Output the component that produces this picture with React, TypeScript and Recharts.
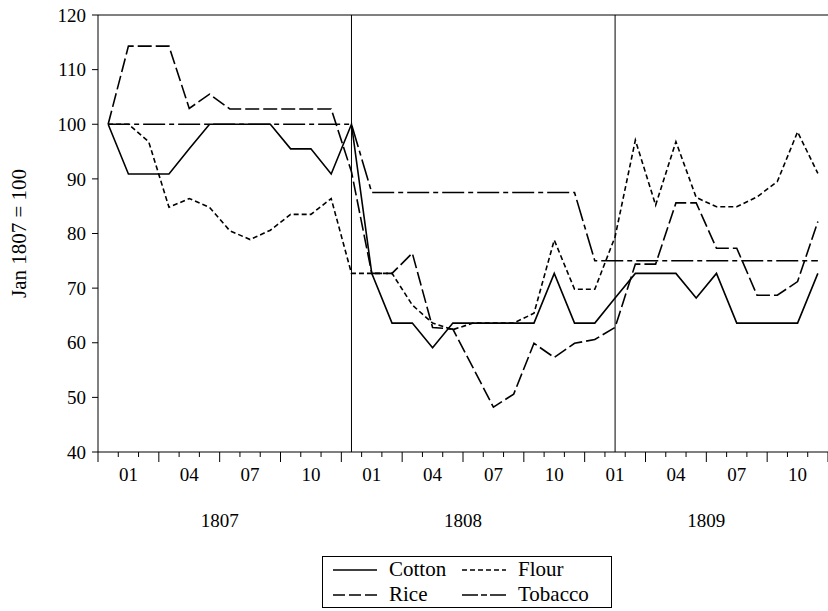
import { LineChart, Line, XAxis, YAxis, ReferenceLine, Legend } from 'recharts';

const FONT = 'Liberation Serif, Tinos, DejaVu Serif, serif';

// monthly index values, Jan 1807 = 100 (36 observations)
const cotton = [
  100, 90.9, 90.9, 90.9, 95.5, 100, 100, 100, 100, 95.5, 95.5, 90.9,
  100, 72.7, 63.6, 63.6, 59.1, 63.6, 63.6, 63.6, 63.6, 63.6, 72.7, 63.6,
  63.6, 68.2, 72.7, 72.7, 72.7, 68.2, 72.7, 63.6, 63.6, 63.6, 63.6, 72.7,
];
const flour = [
  100, 100, 96.8, 84.8, 86.4, 84.8, 80.5, 78.9, 80.6, 83.5, 83.5, 86.4,
  72.7, 72.7, 72.7, 66.9, 63.6, 62.4, 63.6, 63.6, 63.6, 65.4, 78.8, 69.8,
  69.8, 79.4, 97.1, 85.2, 96.8, 86.6, 84.9, 84.9, 86.7, 89.5, 98.6, 91.0,
];
const rice = [
  100, 114.3, 114.3, 114.3, 102.9, 105.5, 102.8, 102.8, 102.8, 102.8, 102.8, 102.8,
  91.3, 72.7, 72.7, 76.4, 62.8, 62.5, 55.4, 48.2, 50.6, 59.9, 57.3, 59.9,
  60.6, 62.8, 74.4, 74.4, 85.6, 85.6, 77.3, 77.3, 68.7, 68.7, 71.2, 82.2,
];
const tobacco = [
  100, 100, 100, 100, 100, 100, 100, 100, 100, 100, 100, 100,
  100, 87.5, 87.5, 87.5, 87.5, 87.5, 87.5, 87.5, 87.5, 87.5, 87.5, 87.5,
  75, 75, 75, 75, 75, 75, 75, 75, 75, 75, 75, 75,
];

const years = ['1807', '1808', '1809'];
const monthTickIdx = [1, 4, 7, 10, 13, 16, 19, 22, 25, 28, 31, 34];
const monthTickLabels = ['01', '04', '07', '10', '01', '04', '07', '10', '01', '04', '07', '10'];
const yTicks = [40, 50, 60, 70, 80, 90, 100, 110, 120];
const yearLines = [12, 25];

const data = cotton.map((c, i) => ({
  idx: i,
  Cotton: c,
  Flour: flour[i],
  Rice: rice[i],
  Tobacco: tobacco[i],
}));

// band edges between months, plus label positions
const boundaries = Array.from({ length: cotton.length + 1 }, (_, j) => j - 0.5);
const yearCenters = years.map((_, i) => i * 12 + 5.5);
const xTicks = [...boundaries, ...monthTickIdx].sort((a, b) => a - b);

const textStyle = { fontFamily: FONT, fontSize: 19, fill: '#000' };

function XTick(props: any) {
  const { x, y, payload } = props;
  const v = payload.value as number;
  if (Number.isInteger(v)) {
    const label = monthTickLabels[monthTickIdx.indexOf(v)];
    return (
      <text x={x} y={y + 29} textAnchor="middle" style={textStyle}>
        {label}
      </text>
    );
  }
  const j = v + 0.5;
  const major = j % 3 === 0;
  const yi = yearCenters.indexOf(v);
  return (
    <g>
      <line x1={x} x2={x} y1={y} y2={y + (major ? 10 : 5)} stroke="#000" strokeWidth={1} />
      {yi >= 0 && (
        <text x={x} y={y + 75} textAnchor="middle" style={textStyle}>
          {years[yi]}
        </text>
      )}
    </g>
  );
}

function YTitle(props: any) {
  const vb = props.viewBox;
  const cx = vb.x + 19;
  const cy = vb.y + vb.height / 2;
  return (
    <text
      x={cx}
      y={cy}
      transform={`rotate(-90 ${cx} ${cy})`}
      textAnchor="middle"
      dominantBaseline="central"
      style={{ ...textStyle, fontSize: 21 }}
    >
      Jan 1807 = 100
    </text>
  );
}

function LegendBox(props: any) {
  const items = props.payload || [];
  return (
    <div
      style={{
        border: '1px solid #000',
        boxSizing: 'border-box',
        width: '100%',
        height: '100%',
        display: 'grid',
        gridTemplateColumns: '129px auto',
        alignContent: 'center',
        paddingLeft: 10,
        fontFamily: FONT,
        fontSize: 21,
        lineHeight: '25px',
        color: '#000',
      }}
    >
      {items.map((it: any) => (
        <div key={it.value} style={{ display: 'flex', alignItems: 'center' }}>
          <svg width={44} height={10} style={{ marginRight: 12 }}>
            <line
              x1={0}
              x2={44}
              y1={5}
              y2={5}
              stroke="#000"
              strokeWidth={1.6}
              strokeDasharray={it.payload?.legendDash}
            />
          </svg>
          <span>{it.value}</span>
        </div>
      ))}
    </div>
  );
}

export default function App() {
  return (
    <div style={{ position: 'absolute', left: 0, top: 0 }}>
      <LineChart width={828} height={611} data={data} margin={{ top: 15, right: 0, bottom: 0, left: 0 }}>
        <XAxis
          type="number"
          dataKey="idx"
          domain={[-0.5, 35.5]}
          ticks={xTicks}
          interval={0}
          tick={XTick}
          tickLine={false}
          tickSize={0}
          tickMargin={0}
          height={159}
          axisLine={{ stroke: '#000', strokeWidth: 1 }}
        />
        <YAxis
          domain={[40, 120]}
          ticks={yTicks}
          interval={0}
          width={98}
          tickSize={6}
          tickMargin={6}
          tick={{ fontSize: 19, fill: '#000', style: { fontFamily: FONT } }}
          tickLine={{ stroke: '#000' }}
          axisLine={{ stroke: '#000', strokeWidth: 1 }}
          label={{ content: YTitle }}
        />
        <ReferenceLine y={120} stroke="#000" strokeWidth={1} />
        {yearLines.map((k) => (
          <ReferenceLine key={k} x={k} stroke="#000" strokeWidth={1} />
        ))}
        <Line type="linear" dataKey="Cotton" stroke="#000" strokeWidth={1.6} dot={false} isAnimationActive={false} />
        <Line type="linear" dataKey="Flour" stroke="#000" strokeWidth={1.6} strokeDasharray="5 3" {...{ legendDash: '5 3' }} dot={false} isAnimationActive={false} />
        <Line type="linear" dataKey="Rice" stroke="#000" strokeWidth={1.6} strokeDasharray="14 4" {...{ legendDash: '12 4' }} dot={false} isAnimationActive={false} />
        <Line type="linear" dataKey="Tobacco" stroke="#000" strokeWidth={1.6} strokeDasharray="22 4 5 4" {...{ legendDash: '16 3 6 3' }} dot={false} isAnimationActive={false} />
        <Legend
          layout="horizontal"
          align="center"
          verticalAlign="middle"
          content={LegendBox}
          wrapperStyle={{ left: 322, top: 556, width: 290, height: 52 }}
        />
      </LineChart>
    </div>
  );
}
